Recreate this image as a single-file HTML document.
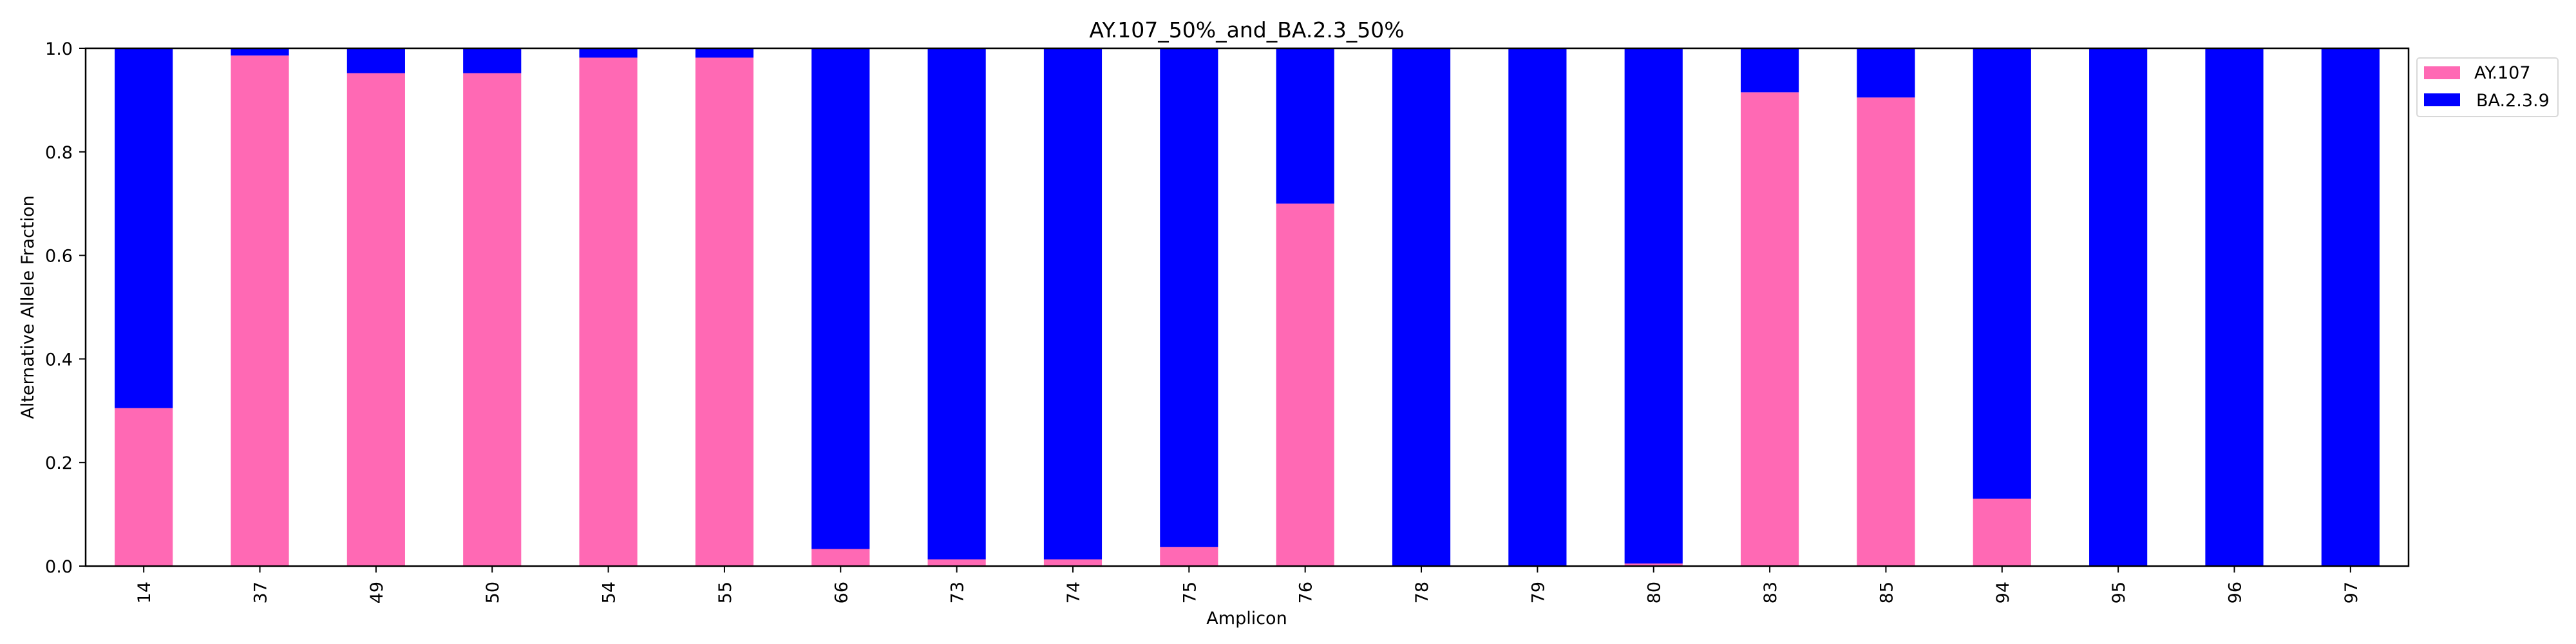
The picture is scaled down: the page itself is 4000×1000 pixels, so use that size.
<!DOCTYPE html>
<html><head><meta charset="utf-8"><style>
body{margin:0;background:#fff}
svg{display:block;font-family:"DejaVu Sans","Liberation Sans",sans-serif}
</style></head><body>
<svg id="chart" width="4000" height="1000" viewBox="0 0 4000 1000" xmlns="http://www.w3.org/2000/svg">
<rect width="4000" height="1000" fill="#fff"/>
<text x="1936" y="58" font-size="33" text-anchor="middle">AY.107_50%_and_BA.2.3_50%</text>
<g id="bars"></g>
<g id="axes"></g>
<text x="1936" y="969" font-size="27" text-anchor="middle">Amplicon</text>
<text transform="translate(52,477) rotate(-90)" font-size="27" text-anchor="middle">Alternative Allele Fraction</text>
<g>
<rect x="3753" y="90" width="219" height="91" rx="4" fill="#fff" stroke="#d8d8d8" stroke-width="2"/>
<rect x="3764" y="103" width="56" height="20" fill="#ff69b4"/>
<text x="3842" y="122" font-size="27">AY.107</text>
<rect x="3764" y="145" width="56" height="20" fill="#0000ff"/>
<text x="3845" y="165" font-size="27">BA.2.3.9</text>
</g>
</svg>
<script>
const categories = ["14","37","49","50","54","55","66","73","74","75","76","78","79","80","83","85","94","95","96","97"];
const ayValues = [0.305,0.986,0.952,0.952,0.982,0.982,0.033,0.013,0.013,0.037,0.70,0,0,0.005,0.915,0.905,0.13,0,0,0];
const baValues = [0.695,0.014,0.048,0.048,0.018,0.018,0.967,0.987,0.987,0.963,0.30,1,1,0.995,0.085,0.095,0.87,1,1,1];
const yTicks = [0,0.2,0.4,0.6,0.8,1.0];
const yTickLabels = ["0.0","0.2","0.4","0.6","0.8","1.0"];

const NS="http://www.w3.org/2000/svg";
const L=133,R=3740,T=75,B=879;
const step=(R-L)/categories.length;
const xC=i=>L+step*(i+0.5);
const y=v=>B-(B-T)*v;
const bw=step*0.5;
function mk(tag,attrs){const e=document.createElementNS(NS,tag);for(const k in attrs)e.setAttribute(k,attrs[k]);return e;}
const bars=document.getElementById('bars');
categories.forEach((c,i)=>{
  const a=mk('rect',{x:xC(i)-bw/2,y:y(ayValues[i]),width:bw,height:B-y(ayValues[i]),fill:'#ff69b4'});
  
  
  bars.appendChild(a);
  const top=ayValues[i]+baValues[i];
  const b=mk('rect',{x:xC(i)-bw/2,y:y(top),width:bw,height:y(ayValues[i])-y(top),fill:'#0000ff'});
  
  
  bars.appendChild(b);
});
const axes=document.getElementById('axes');
const frame=mk('rect',{x:L,y:T,width:R-L,height:B-T,fill:'none',stroke:'#000','stroke-width':2.5});


axes.appendChild(frame);
yTicks.forEach((v,i)=>{
  const t=mk('line',{x1:L-10,x2:L,y1:y(v),y2:y(v),stroke:'#000','stroke-width':2});
  
  
  axes.appendChild(t);
  const lb=mk('text',{x:L-20,y:y(v)+10,'font-size':27,'text-anchor':'end'});
  lb.textContent=yTickLabels[i];
  
  
  axes.appendChild(lb);
});
categories.forEach((c,i)=>{
  const t=mk('line',{x1:xC(i),x2:xC(i),y1:B,y2:B+10,stroke:'#000','stroke-width':2});
  
  
  axes.appendChild(t);
  const lb=mk('text',{transform:`translate(${xC(i)+10},${B+24}) rotate(-90)`,'font-size':27,'text-anchor':'end'});
  lb.textContent=c;
  
  
  axes.appendChild(lb);
});
</script>
</body></html>
